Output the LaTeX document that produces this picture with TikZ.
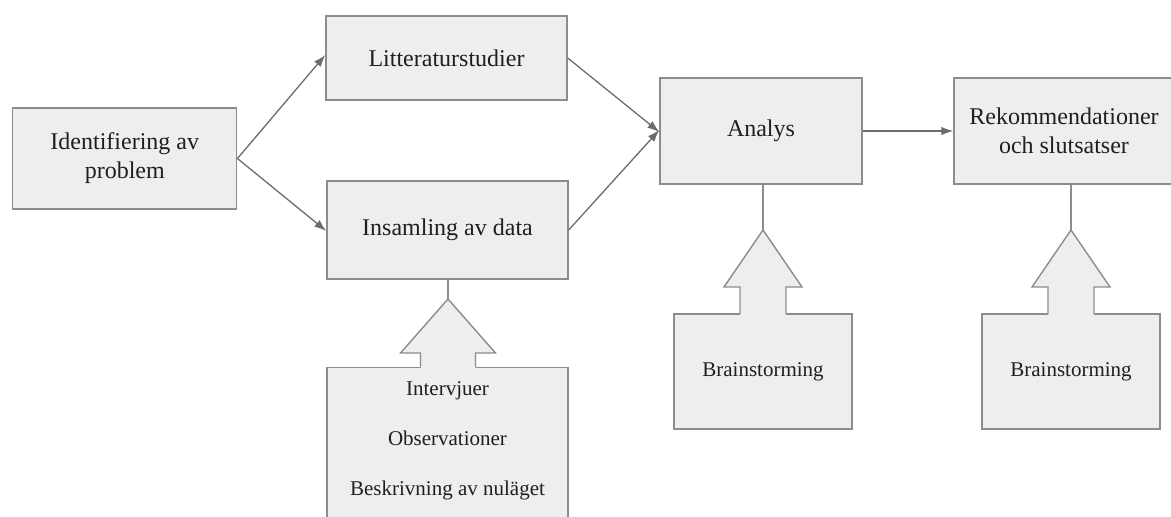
\documentclass[tikz,border=0pt]{standalone}
\usepackage{fontspec}
\setmainfont{Liberation Serif}
\usepackage{tikz}
\usetikzlibrary{arrows.meta}

\definecolor{boxfill}{HTML}{EEEEEE}
\definecolor{boxline}{HTML}{8C8C8C}
\definecolor{arrline}{HTML}{6C6C6C}

\tikzset{
  stage/.style={draw=boxline, line width=1.4pt, fill=boxfill, align=center,
    text=black!88, font=\fontsize{24}{29}\selectfont},
  tool/.style={stage, font=\fontsize{21}{26}\selectfont},
  flow/.style={draw=arrline, line width=1.3pt, -{Latex[length=12pt,width=8.5pt]}},
  stem/.style={draw=boxline, line width=1.4pt},
}

\begin{document}
\begin{tikzpicture}[x=1pt,y=-1pt]
  \useasboundingbox (0,0) rectangle (1171,517);
  \clip (0,0) rectangle (1171,517);

  % process steps
  \node[stage, minimum width=224pt, minimum height=101pt] (ident) at (124.75,158.5) {Identifiering av\\problem};
  \node[stage, minimum width=241pt, minimum height=84pt] (litt) at (446.5,58) {Litteraturstudier};
  \node[stage, minimum width=241pt, minimum height=98pt] (insamling) at (447.5,230) {Insamling av data};
  \node[stage, minimum width=202pt, minimum height=106pt] (analys) at (761,131) {Analys};
  \node[stage, minimum width=220pt, minimum height=106pt] (rekom) at (1064,131) {Rekommendationer\\och slutsatser};

  \draw[flow] (ident.east) -- ([yshift=3pt]litt.west);
  \draw[flow] (ident.east) -- ([yshift=-1pt]insamling.west);
  \draw[flow] (litt.east) -- ([yshift=-1pt]analys.west);
  \draw[flow] (insamling.east) -- ([yshift=1pt]analys.west);
  \draw[flow] (analys.east) -- (rekom.west);

  % supporting activities
  \node[tool, minimum width=241pt, minimum height=173pt, anchor=north] (metoder) at (447.5,367) {};
  \node[align=center, text=black!88, font=\fontsize{21}{26}\selectfont] (metodlista) at (447.5,441)
    {Intervjuer\\[24pt]Observationer\\[24pt]Beskrivning av nuläget};
  \node[tool, minimum width=178pt, minimum height=115pt] (brainA) at (763,371.5) {Brainstorming};
  \node[tool, minimum width=178pt, minimum height=115pt] (brainR) at (1071,371.5) {Brainstorming};

  \coordinate (tipI) at (448,299);
  \coordinate (tipA) at (763,230);
  \coordinate (tipR) at (1071,230);

  \draw[stem] (insamling.south -| tipI) -- (tipI);
  \draw[stem] (analys.south -| tipA) -- (tipA);
  \draw[stem] (rekom.south -| tipR) -- (tipR);

  % block arrows
  \fill[boxfill] (420.5,368.5) -- (420.5,353) -- (400.5,353) -- (tipI) -- (495.5,353) -- (475.5,353) -- (475.5,368.5) -- cycle;
  \draw[stem, line join=miter] (420.5,367) -- (420.5,353) -- (400.5,353) -- (tipI) -- (495.5,353) -- (475.5,353) -- (475.5,367);

  \fill[boxfill] (740,315.5) -- (740,287) -- (724,287) -- (tipA) -- (802,287) -- (786,287) -- (786,315.5) -- cycle;
  \draw[stem, line join=miter] (740,314) -- (740,287) -- (724,287) -- (tipA) -- (802,287) -- (786,287) -- (786,314);

  \fill[boxfill] (1048,315.5) -- (1048,287) -- (1032,287) -- (tipR) -- (1110,287) -- (1094,287) -- (1094,315.5) -- cycle;
  \draw[stem, line join=miter] (1048,314) -- (1048,287) -- (1032,287) -- (tipR) -- (1110,287) -- (1094,287) -- (1094,314);
\end{tikzpicture}
\end{document}
